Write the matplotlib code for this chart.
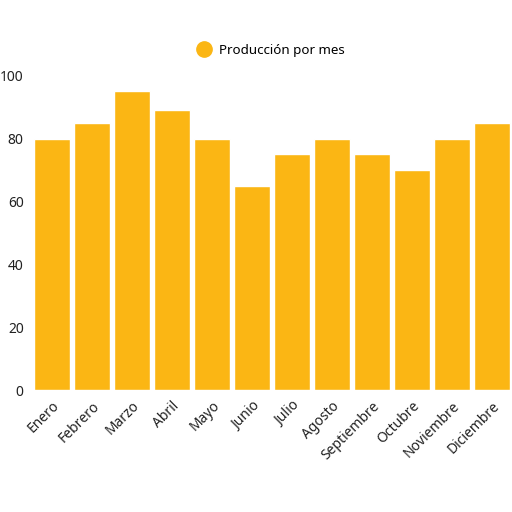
import matplotlib.pyplot as plt
from matplotlib.lines import Line2D

meses = ["Enero", "Febrero", "Marzo", "Abril", "Mayo", "Junio", "Julio",
         "Agosto", "Septiembre", "Octubre", "Noviembre", "Diciembre"]
produccion = [80, 85, 95, 89, 80, 65, 75, 80, 75, 70, 80, 85]

color = "#FBB614"
plt.rcParams['font.family'] = ['Noto Sans', 'DejaVu Sans']

fig = plt.figure(figsize=(5.12, 5.12), dpi=100)
ax = fig.add_axes([0.0625, 0.238, 0.9375, 0.614])

ax.bar(meses, produccion, width=0.92, color=color, edgecolor="white", linewidth=1)
ax.set_xlim(-0.5, len(meses) - 0.5)
ax.set_ylim(0, 100)
ax.set_yticks([0, 20, 40, 60, 80, 100])

for s in ax.spines.values():
    s.set_visible(False)
ax.tick_params(length=0, labelsize=10, colors="#222222")
ax.tick_params(axis="y", pad=6)
ax.tick_params(axis="x", pad=6)
plt.setp(ax.get_xticklabels(), rotation=45, ha="right", rotation_mode="anchor")

handle = Line2D([], [], marker="o", linestyle="", markersize=11,
                markerfacecolor=color, markeredgecolor=color)
fig.legend([handle], ["Producción por mes"], loc="center",
           bbox_to_anchor=(0.523, 0.902), frameon=False, fontsize=9.6,
           handletextpad=0.1)

fig.savefig("out.png", dpi=100)
